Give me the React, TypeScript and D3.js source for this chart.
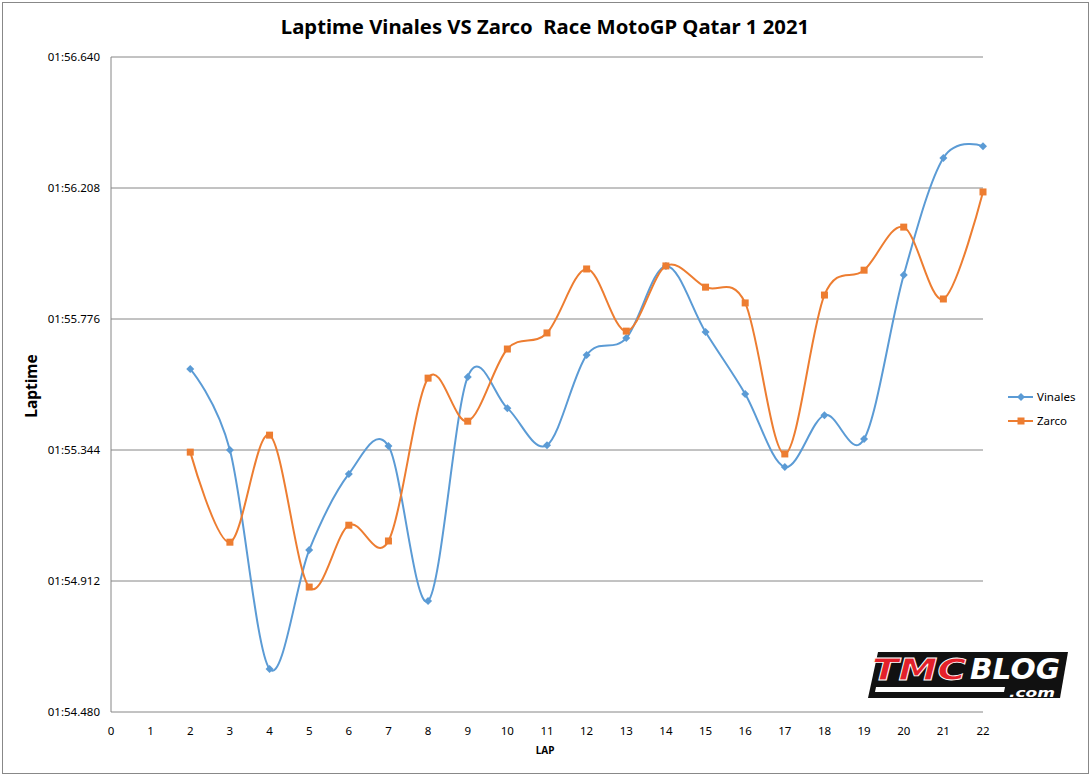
import React from "react";
import * as d3 from "d3";

const laps = [2, 3, 4, 5, 6, 7, 8, 9, 10, 11, 12, 13, 14, 15, 16, 17, 18, 19, 20, 21, 22];
const vinales = [115.611, 115.344, 114.622, 115.014, 115.265, 115.357, 114.846, 115.585, 115.482, 115.360, 115.657, 115.713, 115.951, 115.733, 115.529, 115.288, 115.459, 115.380, 115.921, 116.307, 116.346];
const zarco = [115.337, 115.040, 115.393, 114.892, 115.096, 115.044, 115.581, 115.439, 115.677, 115.730, 115.941, 115.736, 115.951, 115.881, 115.829, 115.331, 115.855, 115.937, 116.079, 115.842, 116.195];
const yTicks = [114.48, 114.912, 115.344, 115.776, 116.208, 116.64];
const xTicks = d3.range(0, 23);
const seriesNames = ["Vinales", "Zarco"];
const colors = ["#5B9BD5", "#ED7D31"];

const W = 1091, H = 777;
const L = 111, R = 983, T = 57, B = 712;

function fmt(v: number) {
  const min = Math.floor(v / 60);
  const s = v - min * 60;
  return `${String(min).padStart(2, "0")}:${s.toFixed(3).padStart(6, "0")}`;
}

export default function App() {
  const x = d3.scaleLinear().domain([0, 22]).range([L, R]);
  const y = d3.scaleLinear().domain([114.48, 116.64]).range([B, T]);
  const line = d3.line<number>()
    .x((_, i) => x(laps[i]))
    .y((d) => y(d))
    .curve(d3.curveCardinal.tension(0));
  const font = "'Noto Sans', 'Open Sans', sans-serif";
  const series = [vinales, zarco];
  return (
    <svg width={W} height={H} style={{ position: "absolute", left: 0, top: 0 }} fontFamily={font}>
      <rect x={0} y={0} width={W} height={H} fill="#fff" />
      <rect x={2.5} y={2.5} width={1086} height={771} fill="none" stroke="#888" strokeWidth={1} />
      <text x={545} y={34} textAnchor="middle" fontSize={20.3} fontWeight="bold" fill="#000" style={{ whiteSpace: "pre" }}>
        Laptime Vinales VS Zarco  Race MotoGP Qatar 1 2021
      </text>
      {yTicks.map((t) => (
        <g key={t}>
          <line x1={L} x2={R} y1={y(t)} y2={y(t)} stroke="#868686" strokeWidth={1} />
          <text x={100} y={y(t) + 4} textAnchor="end" fontSize={11.5} fill="#000">{fmt(t)}</text>
        </g>
      ))}
      <line x1={L} x2={L} y1={T} y2={B} stroke="#868686" strokeWidth={1} />
      {xTicks.map((t) => (
        <text key={t} x={x(t)} y={735} textAnchor="middle" fontSize={11.5} fill="#000">{t}</text>
      ))}
      <text x={545} y={754} textAnchor="middle" fontSize={10} fontWeight="bold" fill="#000">LAP</text>
      <text transform="translate(37,386) rotate(-90)" textAnchor="middle" fontSize={15.5} fontWeight="bold" fill="#000">Laptime</text>
      {series.map((s, si) => (
        <g key={si}>
          <path d={line(s) || ""} fill="none" stroke={colors[si]} strokeWidth={2} />
          {s.map((v, i) =>
            si === 0 ? (
              <path key={i} d={`M${x(laps[i])},${y(v) - 4}l4,4l-4,4l-4,-4z`} fill={colors[0]} />
            ) : (
              <rect key={i} x={x(laps[i]) - 3.5} y={y(v) - 3.5} width={7} height={7} fill={colors[1]} />
            )
          )}
        </g>
      ))}
      {seriesNames.map((n, i) => {
        const ly = 397 + i * 24;
        return (
          <g key={n}>
            <line x1={1008} x2={1033} y1={ly} y2={ly} stroke={colors[i]} strokeWidth={2} />
            {i === 0 ? (
              <path d={`M1021,${ly - 4}l4,4l-4,4l-4,-4z`} fill={colors[0]} />
            ) : (
              <rect x={1017.5} y={ly - 3.5} width={7} height={7} fill={colors[1]} />
            )}
            <text x={1037} y={ly + 4} fontSize={11.5} fill="#000">{n}</text>
          </g>
        );
      })}
      <g>
        <polygon points="878,652 1068,652 1060,698 868,698" fill="#111" />
        <text x={872} y={680} fontSize={30} fontWeight="bold" fontStyle="italic" fill="#e3202a" stroke="#fff" strokeWidth={0.8} fontFamily="'DejaVu Sans', sans-serif" textLength={94} lengthAdjust="spacingAndGlyphs">TMC</text>
        <text x={970} y={679} fontSize={28} fontWeight="bold" fontStyle="italic" fill="#fff" fontFamily="'DejaVu Sans', sans-serif" textLength={90} lengthAdjust="spacingAndGlyphs">BLOG</text>
        <polygon points="876,687 1005,687 1004,692 875,692" fill="#fff" />
        <text x={1009} y={697} fontSize={12} fontWeight="bold" fontStyle="italic" fill="#fff" fontFamily="'DejaVu Sans', sans-serif" textLength={46} lengthAdjust="spacingAndGlyphs">.com</text>
      </g>
    </svg>
  );
}
